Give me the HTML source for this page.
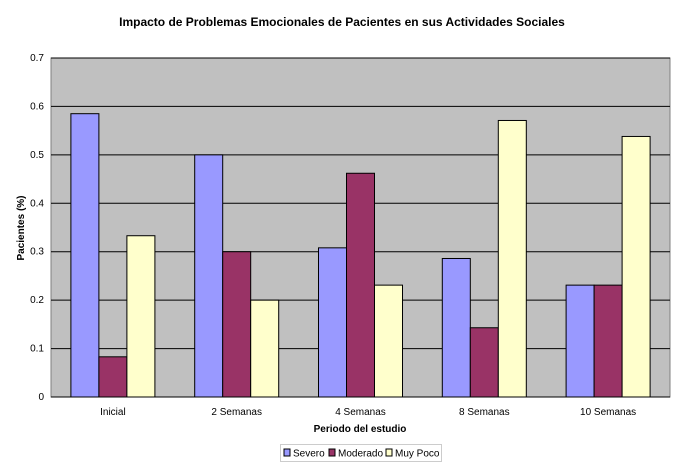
<!DOCTYPE html>
<html><head><meta charset="utf-8"><style>
body{margin:0;background:#fff;}
svg{font-family:"Liberation Sans",Arial,sans-serif;}
</style></head><body>
<svg id="c" width="683" height="467" xmlns="http://www.w3.org/2000/svg"></svg>
<script>
const categories=["Inicial","2 Semanas","4 Semanas","8 Semanas","10 Semanas"];
const severo=[0.585,0.5,0.308,0.286,0.231];
const moderado=[0.083,0.3,0.462,0.143,0.231];
const muyPoco=[0.333,0.2,0.231,0.571,0.538];
const yTicks=[0,0.1,0.2,0.3,0.4,0.5,0.6,0.7];
const seriesNames=["Severo","Moderado","Muy Poco"];
const colors=["#9999ff","#993366","#ffffcc"];
const svg=document.getElementById('c');
const NS="http://www.w3.org/2000/svg";
function mk(t,a,p){const e=document.createElementNS(NS,t);for(const k in a)e.setAttribute(k,a[k]);(p||svg).appendChild(e);return e;}
const L=51,R=670,T=58,B=397;
const y=v=>B-(v/0.7)*(B-T);
const gw=(R-L)/categories.length;
const bw=28;
const t=mk('text',{x:342,y:26,'text-anchor':'middle','font-size':12,'font-weight':'bold'});

t.textContent="Impacto de Problemas Emocionales de Pacientes en sus Actividades Sociales";
const bg=mk('rect',{x:L,y:T,width:R-L,height:B-T,fill:'#c0c0c0',stroke:'#808080'});

yTicks.forEach(v=>{
  if(v>0){const g=mk('line',{x1:L,x2:R,y1:y(v),y2:y(v),stroke:'#000','stroke-width':1});
  }
  const tx=mk('text',{x:L-7,y:y(v)+3,'text-anchor':'end','font-size':10});
  
  tx.textContent=String(v);
});
const all=[severo,moderado,muyPoco];
categories.forEach((c,i)=>{
  const cx=L+gw*i+gw/2;
  all.forEach((s,j)=>{
    const x=cx-1.5*bw+j*bw;
    const r=mk('rect',{x:x,y:y(s[i]),width:bw,height:B-y(s[i]),fill:colors[j],stroke:'#000','stroke-width':1});
    
    
  });
  const tx=mk('text',{x:cx,y:415,'text-anchor':'middle','font-size':10});
  
  tx.textContent=c;
});
const ax=mk('line',{x1:L,x2:R,y1:B,y2:B,stroke:'#000'});

const xt=mk('text',{x:360,y:432,'text-anchor':'middle','font-size':10,'font-weight':'bold'});

xt.textContent="Periodo del estudio";
const yt=mk('text',{x:0,y:0,'text-anchor':'middle','font-size':10,'font-weight':'bold',transform:'translate(24,228) rotate(-90)'});

yt.textContent="Pacientes (%)";
const lg=mk('g',{});

mk('rect',{x:280.5,y:444.5,width:161,height:17,fill:'#fff',stroke:'#ccc'},lg);
const lx=[284,329,386];
seriesNames.forEach((n,j)=>{
  const s=mk('rect',{x:lx[j],y:449,width:6,height:7,fill:colors[j],stroke:'#000'},lg);
  
  const tx=mk('text',{x:lx[j]+9,y:456.5,'font-size':10},lg);
  
  tx.textContent=n;
});
</script>
</body></html>
